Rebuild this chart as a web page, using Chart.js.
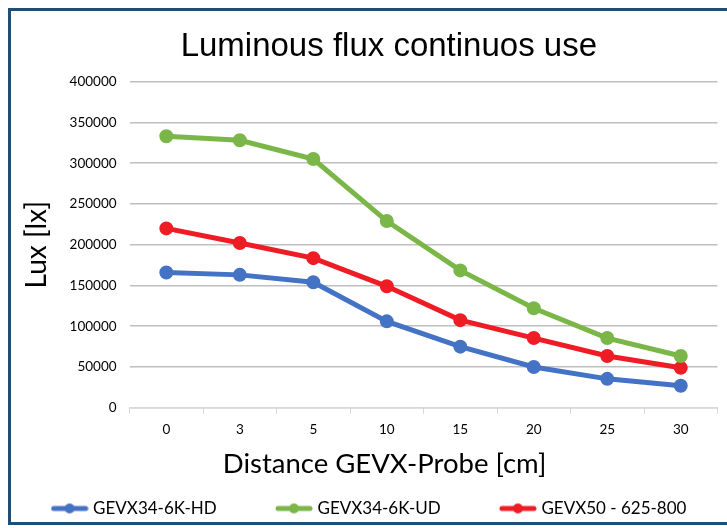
<!DOCTYPE html>
<html>
<head>
<meta charset="utf-8">
<script src="https://cdn.jsdelivr.net/npm/chart.js@4"></script>
<style>
  html, body { margin: 0; padding: 0; background: #fff; }
  #frame { position: absolute; left: 8px; top: 8px; width: 740px; height: 511px; border: 3px solid #1f4e79; }
  #wrap { position: absolute; left: 0; top: 0; width: 727px; height: 528px; }
</style>
</head>
<body>
<div id="frame"></div>
<div id="wrap"><canvas id="luxChart"></canvas></div>
<script>
// distance in cm
const distances = ['0', '3', '5', '10', '15', '20', '25', '30'];

// lux values per lamp
const gevx34Hd = [166000, 163000, 154000, 106000, 75000, 50000, 35500, 27000];
const gevx34Ud = [333000, 328000, 305000, 229000, 168500, 122000, 85500, 63500];
const gevx50 = [220000, 202000, 183500, 149000, 107500, 85500, 63500, 49000];

const TITLE_FONT = "'Liberation Sans', Arial, sans-serif";
const FONT = "Lato, 'Open Sans', sans-serif";

// legend marker: line with dot in the middle
function legendMark(color) {
  const c = document.createElement('canvas');
  c.width = 38; c.height = 12;
  const g = c.getContext('2d');
  g.strokeStyle = color; g.lineWidth = 5; g.lineCap = 'round';
  g.beginPath(); g.moveTo(3, 6); g.lineTo(35, 6); g.stroke();
  g.fillStyle = color;
  g.beginPath(); g.arc(19, 6, 5, 0, Math.PI * 2); g.fill();
  return c;
}

// pad legend labels with spaces so entries sit ~224px apart like the original
const measure = document.createElement('canvas').getContext('2d');
measure.font = '17px ' + FONT;
function padLabel(text) {
  const want = 224 - 10 - 30 - 8.5;
  const sp = measure.measureText(' ').width;
  const n = Math.max(0, Math.round((want - measure.measureText(text).width) / sp));
  return text + ' '.repeat(n);
}

function makeSet(label, data, color) {
  return {
    label: label,
    data: data,
    borderColor: color,
    backgroundColor: color,
    borderWidth: 5,
    pointRadius: 4.5,
    pointHoverRadius: 4.5,
    pointStyle: 'circle',
    tension: 0,
    fill: false,
    legendMark: legendMark(color),
  };
}

const ctx = document.getElementById('luxChart').getContext('2d');
new Chart(ctx, {
  type: 'line',
  data: {
    labels: distances,
    datasets: [
      makeSet('GEVX34-6K-HD', gevx34Hd, '#4472c4'),
      makeSet('GEVX34-6K-UD', gevx34Ud, '#7ab648'),
      makeSet('GEVX50 - 625-800', gevx50, '#ee1c25'),
    ],
  },
  options: {
    responsive: true,
    maintainAspectRatio: false,
    animation: false,
    layout: { padding: { left: 20, right: 6, top: 27, bottom: 1 } },
    plugins: {
      title: {
        display: true,
        text: '\u00a0\u00a0\u00a0\u00a0Luminous flux continuos use',
        color: '#000',
        font: { family: TITLE_FONT, size: 33, weight: 'normal' },
        padding: { top: 0, bottom: 15 },
      },
      // x axis caption, centred on the whole frame as in the original
      subtitle: {
        display: true,
        position: 'bottom',
        weight: 500,
        text: '\u00a0\u00a0\u00a0\u00a0Distance GEVX-Probe [cm]',
        color: '#000',
        font: { family: FONT, size: 27.5 },
        padding: { top: 2, bottom: 9 },
      },
      legend: {
        position: 'bottom',
        labels: {
          color: '#000',
          font: { family: FONT, size: 17 },
          usePointStyle: true,
          pointStyleWidth: 30,
          padding: 10,
          generateLabels: (chart) => chart.data.datasets.map((ds, i, all) => ({
            text: i < all.length - 1 ? padLabel(ds.label) : ds.label,
            fillStyle: ds.borderColor,
            strokeStyle: ds.borderColor,
            pointStyle: ds.legendMark,
            lineWidth: 0,
            hidden: false,
            datasetIndex: i,
          })),
        },
      },
      tooltip: { enabled: false },
    },
    scales: {
      x: {
        offset: true,
        grid: { offset: true, drawOnChartArea: false, color: '#d9d9d9', tickLength: 6 },
        border: { color: '#d9d9d9', width: 1 },
        ticks: { color: '#000', font: { family: FONT, size: 13.5 }, padding: 8 },
      },
      y: {
        min: 0,
        max: 400000,
        ticks: {
          stepSize: 50000,
          color: '#000',
          font: { family: FONT, size: 13.5 },
          padding: 13,
          callback: (v) => String(v),
        },
        grid: { color: '#bfbfbf', lineWidth: 1.5, drawTicks: false },
        border: { display: false },
        title: {
          display: true,
          text: 'Lux [lx]',
          color: '#000',
          font: { family: FONT, size: 28 },
          padding: { top: 0, bottom: 3 },
        },
      },
    },
  },
});
</script>
</body>
</html>
